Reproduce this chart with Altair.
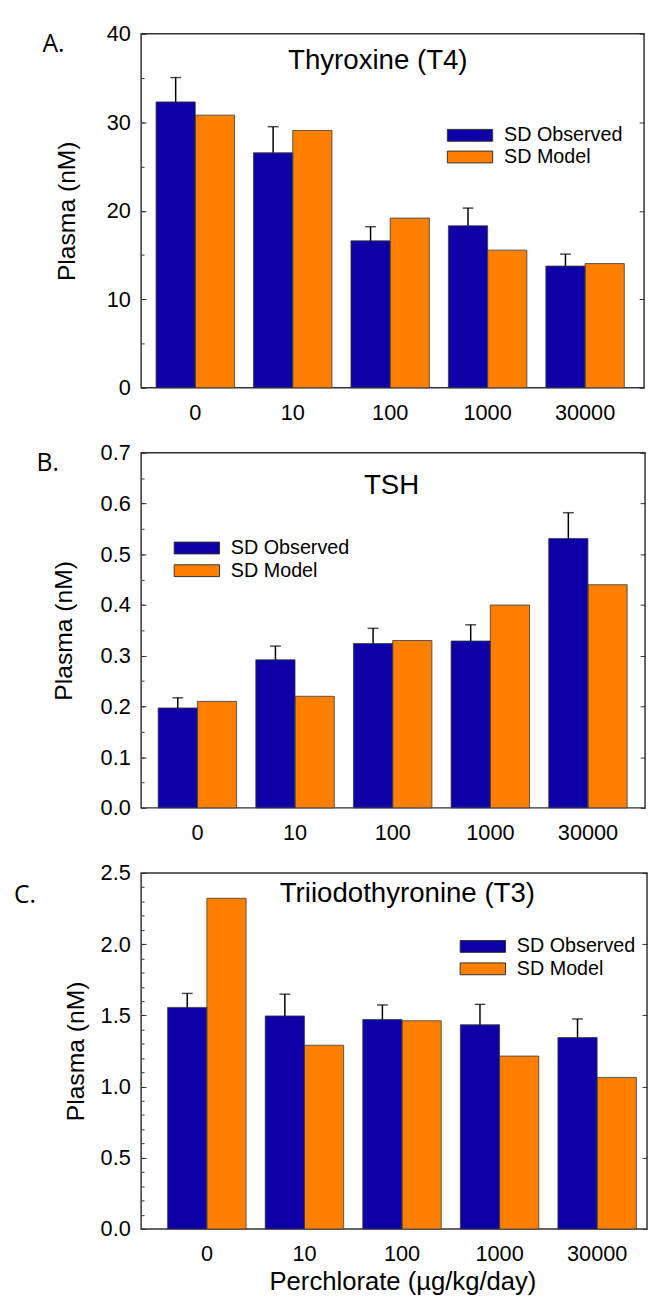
import altair as alt
import pandas as pd

# ---------------- data ----------------
doses = ["0", "10", "100", "1000", "30000"]
series = ["SD Observed", "SD Model"]

t4_observed = [32.3, 26.55, 16.6, 18.3, 13.75]
t4_sd = [2.75, 2.95, 1.6, 2.0, 1.35]
t4_model = [30.8, 29.07, 19.17, 15.55, 14.03]

tsh_observed = [0.197, 0.292, 0.324, 0.329, 0.531]
tsh_sd = [0.020, 0.027, 0.030, 0.032, 0.051]
tsh_model = [0.21, 0.22, 0.33, 0.40, 0.44]

t3_observed = [1.556, 1.496, 1.471, 1.434, 1.344]
t3_sd = [0.098, 0.153, 0.102, 0.143, 0.131]
t3_model = [2.322, 1.29, 1.462, 1.214, 1.064]

t4_major = [0, 10, 20, 30, 40]
t4_minor = [0, 5, 10, 15, 20, 25, 30, 35, 40]
tsh_major = [0.0, 0.1, 0.2, 0.3, 0.4, 0.5, 0.6, 0.7]
tsh_minor = [0.0, 0.05, 0.1, 0.15, 0.2, 0.25, 0.3, 0.35, 0.4, 0.45, 0.5, 0.55, 0.6, 0.65, 0.7]
t3_major = [0.0, 0.5, 1.0, 1.5, 2.0, 2.5]
t3_minor = [0.0, 0.1, 0.2, 0.3, 0.4, 0.5, 0.6, 0.7, 0.8, 0.9, 1.0, 1.1, 1.2, 1.3,
            1.4, 1.5, 1.6, 1.7, 1.8, 1.9, 2.0, 2.1, 2.2, 2.3, 2.4, 2.5]

BLUE = "#0c00a6"
ORANGE = "#ff7f00"
FONT = "Liberation Sans"
# wide, flat swatch (46 x 12 px at symbolSize 484)
LEGEND_SYMBOL = "M-2.09,-0.545L2.09,-0.545L2.09,0.545L-2.09,0.545Z"


def panel(letter, title, obs, sd, model, ymax, major, minor, fmt,
          width, height, pad_outer, align, title_x, title_y,
          letter_x, letter_y, legend_x, legend_y, row_pad, ytitle_pad,
          x_title=None):
    rows = []
    for d, o, s, m in zip(doses, obs, sd, model):
        rows.append({"dose": d, "series": series[0], "value": o, "upper": o + s})
        rows.append({"dose": d, "series": series[1], "value": m, "upper": None})
    df = pd.DataFrame(rows)

    yscale = alt.Scale(domain=[0, ymax], nice=False, zero=True)
    xaxis_kw = dict(labelAngle=0, ticks=False, domain=False, labelPadding=15,
                    labelFontSize=22)
    if x_title:
        xaxis_kw.update(title=x_title, titleFontSize=26, titlePadding=4,
                        titleFontWeight="normal", titleX=265)
    else:
        xaxis_kw.update(title=None)
    x = alt.X("dose:N", sort=doses,
              scale=alt.Scale(domain=doses, paddingInner=0.195,
                              paddingOuter=pad_outer, align=align),
              axis=alt.Axis(**xaxis_kw))
    xo = alt.XOffset("series:N", sort=series, scale=alt.Scale(domain=series))

    base = alt.Chart(df)
    bars = base.mark_bar(strokeWidth=0).encode(
        x=x, xOffset=xo,
        y=alt.Y("value:Q", scale=yscale,
                axis=alt.Axis(orient="left", values=major, format=fmt,
                              title="Plasma (nM)", ticks=False, domain=False,
                              labelPadding=11, labelFontSize=22,
                              titleFontSize=25, titlePadding=ytitle_pad,
                              titleFontWeight="normal")),
        color=alt.Color("series:N", sort=series,
                        scale=alt.Scale(domain=series, range=[BLUE, ORANGE]),
                        legend=alt.Legend(title=None, orient="none",
                                          legendX=legend_x, legendY=legend_y,
                                          symbolType=LEGEND_SYMBOL,
                                          symbolSize=484,
                                          symbolStrokeColor="#333",
                                          symbolStrokeWidth=1,
                                          symbolOpacity=1,
                                          labelFontSize=20, labelOffset=23,
                                          rowPadding=row_pad, padding=0)),
    )
    outline = base.mark_bar(fillOpacity=0, stroke="#3a3a3a", strokeWidth=0.8).encode(
        x=x, xOffset=xo,
        y=alt.Y("value:Q", scale=yscale,
                axis=alt.Axis(orient="right", values=major, labels=False,
                              domain=False, title=None, tickSize=5, offset=-5)),
    )
    obs_only = base.transform_filter(alt.datum.series == series[0])
    rule = obs_only.mark_rule(color="black", strokeWidth=1.5).encode(
        x=x, xOffset=xo,
        y=alt.Y("value:Q", scale=yscale,
                axis=alt.Axis(orient="left", values=minor, labels=False,
                              domain=False, title=None, tickSize=3, offset=-3)),
        y2="upper:Q",
    )
    cap = obs_only.mark_tick(color="black", thickness=1.5, size=11,
                             orient="horizontal").encode(
        x=x, xOffset=xo,
        y=alt.Y("upper:Q", scale=yscale,
                axis=alt.Axis(orient="left", values=major, labels=False,
                              domain=False, title=None, tickSize=5, offset=-5)),
    )
    ttl = alt.Chart(pd.DataFrame({"t": [title]})).mark_text(
        font=FONT, fontSize=28, align="center", baseline="alphabetic",
        color="black").encode(x=alt.value(title_x), y=alt.value(title_y), text="t:N")
    let = alt.Chart(pd.DataFrame({"t": [letter]})).mark_text(
        font="Open Sans", fontSize=25, align="left", baseline="alphabetic",
        color="black").encode(x=alt.value(letter_x), y=alt.value(letter_y), text="t:N")

    return alt.layer(bars, outline, rule, cap, ttl, let).resolve_axis(
        y="independent").properties(width=width, height=height)


pA = panel("A.", "Thyroxine (T4)", t4_observed, t4_sd, t4_model, 40,
           t4_major, t4_minor, "d", 510, 359, 0.178, 0.43,
           240, 36, -100, 19, 322, 91.5, 0, 27)
pB = panel("B.", "TSH", tsh_observed, tsh_sd, tsh_model, 0.7,
           tsh_major, tsh_minor, ".1f", 511, 360, 0.178, 0.49,
           254, 42, -106, 18, 45, 85, 1, 24)
pC = panel("C.", "Triiodothyronine (T3)", t3_observed, t3_sd, t3_model, 2.5,
           t3_major, t3_minor, ".1f", 513, 361, 0.19, 0.715,
           270, 29, -129, 30, 335, 63, 0.7, 12,
           x_title="Perchlorate (µg/kg/day)")

chart = alt.vconcat(pA, pB, pC, spacing=17).resolve_scale(
    color="independent"
).resolve_legend(
    color="independent"
).properties(
    padding={"left": 5, "top": 5, "right": 0, "bottom": 0}
).configure_view(
    stroke="#333", strokeWidth=1.5
).configure_axis(
    grid=False, labelFont=FONT, titleFont=FONT, labelColor="black",
    titleColor="black", tickColor="#333", tickWidth=1
).configure_legend(
    labelFont=FONT, labelColor="black"
)

chart.save("out.html", embed_options={"renderer": "svg", "actions": False})
